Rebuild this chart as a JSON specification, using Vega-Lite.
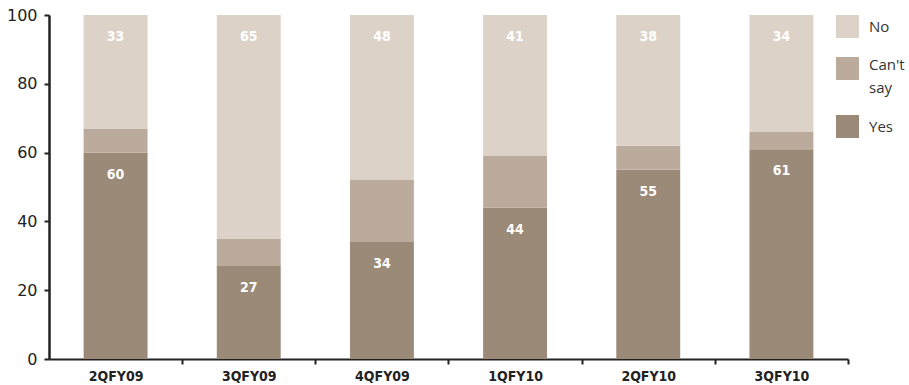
{
  "$schema": "https://vega.github.io/schema/vega-lite/v6.json",
  "width": 799,
  "height": 344,
  "autosize": {"type": "none"},
  "padding": {"left": 49, "top": 15, "right": 61, "bottom": 26},
  "background": "white",
  "config": {"view": {"stroke": null}},
  "data": {
    "values": [
      {"quarter": "2QFY09", "response": "Yes", "value": 60},
      {"quarter": "2QFY09", "response": "Can't say", "value": 7},
      {"quarter": "2QFY09", "response": "No", "value": 33},
      {"quarter": "3QFY09", "response": "Yes", "value": 27},
      {"quarter": "3QFY09", "response": "Can't say", "value": 8},
      {"quarter": "3QFY09", "response": "No", "value": 65},
      {"quarter": "4QFY09", "response": "Yes", "value": 34},
      {"quarter": "4QFY09", "response": "Can't say", "value": 18},
      {"quarter": "4QFY09", "response": "No", "value": 48},
      {"quarter": "1QFY10", "response": "Yes", "value": 44},
      {"quarter": "1QFY10", "response": "Can't say", "value": 15},
      {"quarter": "1QFY10", "response": "No", "value": 41},
      {"quarter": "2QFY10", "response": "Yes", "value": 55},
      {"quarter": "2QFY10", "response": "Can't say", "value": 7},
      {"quarter": "2QFY10", "response": "No", "value": 38},
      {"quarter": "3QFY10", "response": "Yes", "value": 61},
      {"quarter": "3QFY10", "response": "Can't say", "value": 5},
      {"quarter": "3QFY10", "response": "No", "value": 34}
    ]
  },
  "transform": [
    {"calculate": "indexof(['Yes', \"Can't say\", 'No'], datum.response)", "as": "ord"},
    {"stack": "value", "groupby": ["quarter"], "sort": [{"field": "ord", "order": "ascending"}], "as": ["v0", "v1"]}
  ],
  "encoding": {
    "x": {
      "field": "quarter",
      "type": "nominal",
      "sort": ["2QFY09", "3QFY09", "4QFY09", "1QFY10", "2QFY10", "3QFY10"],
      "scale": {"paddingInner": 0.52, "paddingOuter": 0.26},
      "axis": {
        "title": null,
        "labelAngle": 0,
        "domainColor": "#222222",
        "domainWidth": 2,
        "tickColor": "#222222",
        "tickWidth": 2,
        "tickSize": 5,
        "tickOffset": 66.5,
        "labelOffset": -66.5,
        "labelFont": "DejaVu Sans Condensed",
        "labelFontWeight": "bold",
        "labelFontSize": 14,
        "labelColor": "#222222",
        "labelPadding": 5
      }
    }
  },
  "layer": [
    {
      "mark": {"type": "bar"},
      "encoding": {
        "y": {
          "field": "v0",
          "type": "quantitative",
          "scale": {"domain": [0, 100], "nice": false},
          "axis": {
            "title": null,
            "values": [0, 20, 40, 60, 80, 100],
            "grid": false,
            "domainColor": "#222222",
            "domainWidth": 2.5,
            "tickColor": "#222222",
            "tickWidth": 2,
            "tickSize": 5,
            "labelFont": "DejaVu Sans",
            "labelFontSize": 16,
            "labelColor": "#222222",
            "labelPadding": 7
          }
        },
        "y2": {"field": "v1"},
        "color": {
          "field": "response",
          "type": "nominal",
          "scale": {"domain": ["No", "Can't say", "Yes"], "range": ["#dcd2c8", "#bbab9c", "#9a8a77"]},
          "legend": {
            "title": null,
            "orient": "none",
            "legendX": 787,
            "legendY": 0,
            "symbolType": "square",
            "symbolSize": 529,
            "symbolStrokeWidth": 0,
            "symbolOpacity": 1,
            "labelFont": "Open Sans",
            "labelFontSize": 15,
            "labelColor": "#333333",
            "labelOffset": 10,
            "rowPadding": 19,
            "labelExpr": "datum.label == \"Can't say\" ? [\"Can't\", 'say'] : datum.label",
            "encode": {
              "labels": {
                "update": {
                  "lineHeight": {"value": 23},
                  "dy": {"signal": "datum.label == \"Can't say\" ? -4 : 0"}
                }
              }
            }
          }
        }
      }
    },
    {
      "transform": [{"filter": "datum.response != \"Can't say\""}],
      "mark": {"type": "text", "dy": 22, "color": "white", "fontWeight": "bold", "fontSize": 14, "font": "DejaVu Sans Condensed", "baseline": "middle"},
      "encoding": {
        "y": {"field": "v1", "type": "quantitative"},
        "text": {"field": "value", "type": "quantitative"}
      }
    }
  ]
}
